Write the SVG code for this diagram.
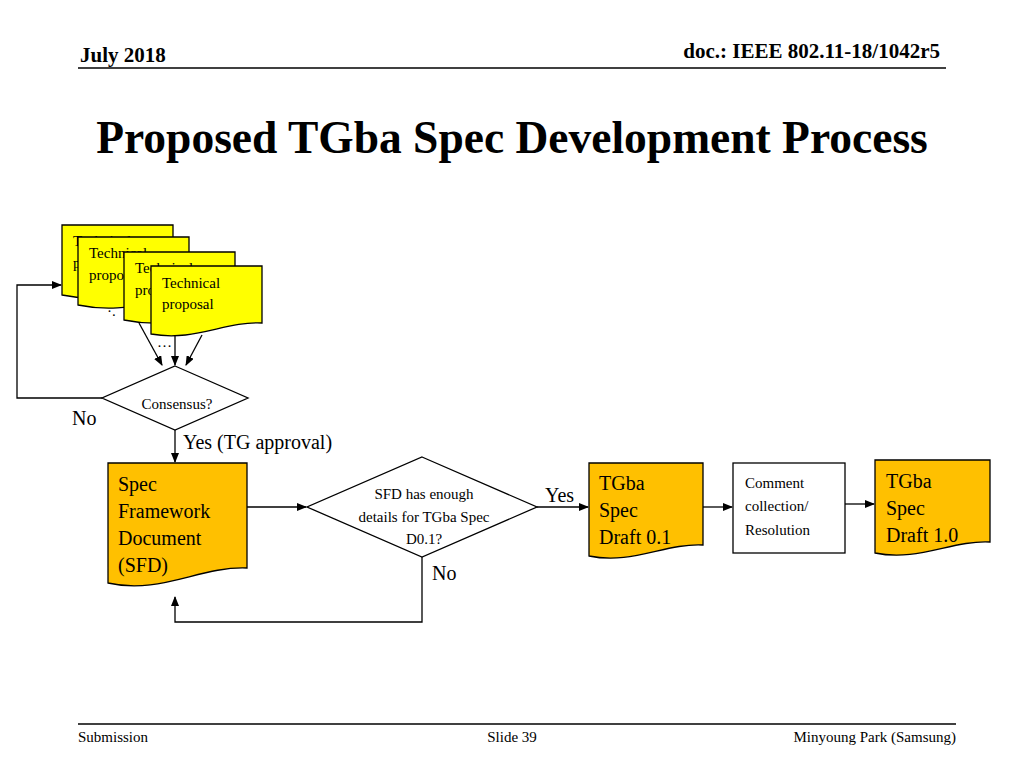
<svg xmlns="http://www.w3.org/2000/svg" width="1024" height="768" viewBox="0 0 1024 768" font-family="'Liberation Serif','Times New Roman',serif">
<defs>
<marker id="ah" markerWidth="10" markerHeight="8" refX="9" refY="4" orient="auto" markerUnits="userSpaceOnUse"><path d="M0,0 L10,4 L0,8 z" fill="#000"/></marker>
<style>
.doc{stroke:#000;stroke-width:1.3}
.y{fill:#ffff00}.o{fill:#ffc000}
.c{fill:none;stroke:#000;stroke-width:1.3}
.a{marker-end:url(#ah)}
</style>
</defs>
<rect width="1024" height="768" fill="#fff"/>
<text x="80" y="62" font-size="21" font-weight="bold">July 2018</text>
<text x="940" y="58" font-size="21" font-weight="bold" text-anchor="end">doc.: IEEE 802.11-18/1042r5</text>
<line x1="78" y1="68" x2="946" y2="68" stroke="#000" stroke-width="1.3"/>
<text x="512" y="153" font-size="45.5" font-weight="bold" text-anchor="middle">Proposed TGba Spec Development Process</text>
<line x1="78" y1="724" x2="956" y2="724" stroke="#000" stroke-width="1.3"/>
<text x="78" y="742" font-size="15">Submission</text>
<text x="512" y="742" font-size="15" text-anchor="middle">Slide 39</text>
<text x="956" y="742" font-size="15" text-anchor="end">Minyoung Park (Samsung)</text>

<g id="connectors">
<polyline class="c a" points="102,398 17,398 17,285 61,285"/>
<line class="c a" x1="139" y1="323" x2="162" y2="365"/>
<line class="c a" x1="175" y1="327" x2="175" y2="365"/>
<line class="c a" x1="202" y1="335" x2="186" y2="365"/>
<line class="c a" x1="175" y1="430" x2="175" y2="462"/>
<line class="c a" x1="247" y1="507" x2="306" y2="507"/>
<polyline class="c a" points="422,557 422,622 175,622 175,597"/>
<line class="c a" x1="537" y1="507" x2="588" y2="507"/>
<line class="c a" x1="703" y1="507" x2="732" y2="507"/>
<line class="c a" x1="845" y1="504" x2="874" y2="504"/>
<text x="72" y="425" font-size="20">No</text>
<text x="183" y="449" font-size="20">Yes (TG approval)</text>
<text x="432" y="580" font-size="20">No</text>
<text x="545" y="502" font-size="20">Yes</text>
<text x="107" y="316" font-size="15">·.</text>
<text x="157" y="347" font-size="15">…</text>
</g>

<g id="tp1" font-size="15"><path class="doc y" d="M62,225 H173 V290 C140,288 110,305 62,295 Z"/><text x="73" y="246">Technical</text><text x="73" y="268">proposal</text></g>
<g id="tp2" font-size="15"><path class="doc y" d="M78,237 H189 V300 C156,298 126,315 78,305 Z"/><text x="89" y="258">Technical</text><text x="89" y="280">proposal</text></g>
<g id="tp3" font-size="15"><path class="doc y" d="M124,252 H235 V315 C202,313 172,330 124,320 Z"/><text x="135" y="273">Technical</text><text x="135" y="295">proposal</text></g>
<g id="tp4" font-size="15"><path class="doc y" d="M151,266 H262 V323 C225,321 195,342 151,334 Z"/><text x="162" y="288">Technical</text><text x="162" y="309">proposal</text></g>

<g id="consensus" font-size="15"><polygon class="doc" fill="#fff" points="175,366 248,398 175,430 102,398"/><text x="177" y="409" text-anchor="middle">Consensus?</text></g>

<g id="sfd" font-size="20"><path class="doc o" d="M108,463 H247 V568 C200,566 160,595 108,583 Z"/>
<text x="118" y="491">Spec</text><text x="118" y="518">Framework</text><text x="118" y="545">Document</text><text x="118" y="572">(SFD)</text></g>

<g id="decision" font-size="15"><polygon class="doc" fill="#fff" points="422,457 537,507 422,557 307,507"/>
<text x="424" y="499" text-anchor="middle">SFD has enough</text><text x="424" y="522" text-anchor="middle">details for TGba Spec</text><text x="424" y="544" text-anchor="middle">D0.1?</text></g>

<g id="d01" font-size="20"><path class="doc o" d="M589,463 H703 V545 C665,543 632,565 589,556 Z"/>
<text x="599" y="490">TGba</text><text x="599" y="517">Spec</text><text x="599" y="544">Draft 0.1</text></g>

<g id="comment" font-size="15"><rect class="doc" fill="#fff" x="733" y="463" width="112" height="90"/>
<text x="745" y="488">Comment</text><text x="745" y="511">collection/</text><text x="745" y="535">Resolution</text></g>

<g id="d10" font-size="20"><path class="doc o" d="M875,460 H990 V542 C952,540 918,562 875,553 Z"/>
<text x="886" y="488">TGba</text><text x="886" y="515">Spec</text><text x="886" y="542">Draft 1.0</text></g>
</svg>
